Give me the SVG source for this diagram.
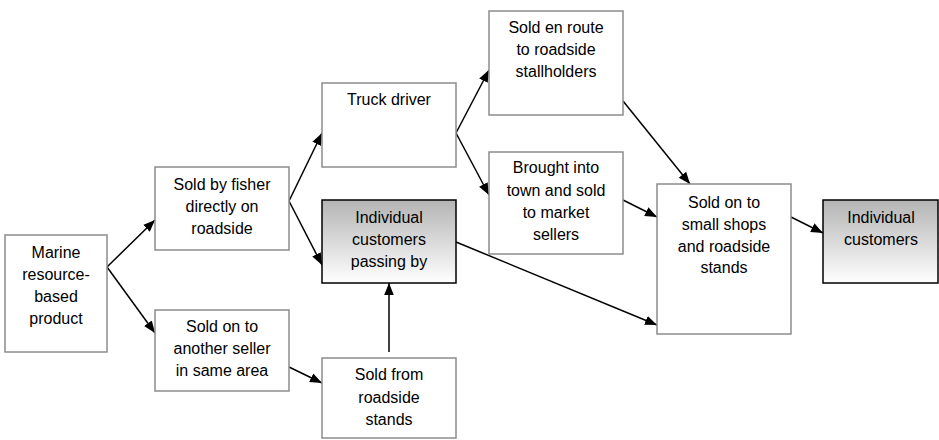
<svg xmlns="http://www.w3.org/2000/svg" width="939" height="440" viewBox="0 0 939 440">
<style>
.box{fill:#fff;stroke:#8c8c8c;stroke-width:1.5}
.sh{fill:url(#g);stroke:#000;stroke-width:1.5}
text{font-family:"Liberation Sans",Arial,sans-serif;font-size:16px;fill:#000;text-anchor:middle}
.c line{stroke:#000;stroke-width:1.5;marker-end:url(#a)}
</style>
<defs>
<linearGradient id="g" x1="0" y1="0" x2="0" y2="1">
<stop offset="0" stop-color="#b4b4b4"/>
<stop offset="1" stop-color="#ffffff"/>
</linearGradient>
<marker id="a" viewBox="0 0 10 10" refX="10" refY="5" markerWidth="8" markerHeight="8" orient="auto" markerUnits="strokeWidth">
<path d="M0,1 L10,5 L0,9 z" fill="#000"/>
</marker>
</defs>
<g class="c" id="connectors">
<line x1="107" y1="267" x2="155" y2="220"/>
<line x1="107" y1="267" x2="155" y2="333"/>
<line x1="289" y1="201" x2="322" y2="133"/>
<line x1="289" y1="201" x2="322" y2="265"/>
<line x1="289" y1="367" x2="322" y2="383"/>
<line x1="456" y1="133" x2="489" y2="70"/>
<line x1="456" y1="133" x2="489" y2="195"/>
<line x1="623" y1="101" x2="690" y2="184"/>
<line x1="623" y1="200" x2="657" y2="217"/>
<line x1="456" y1="242" x2="657" y2="325"/>
<line x1="389" y1="352" x2="389" y2="283"/>
<line x1="791" y1="217" x2="823" y2="233"/>
</g>
<g id="marine"><rect class="box" x="5" y="235" width="102" height="117"/>
<text x="56" y="258">Marine</text><text x="56" y="280">resource-</text><text x="56" y="302">based</text><text x="56" y="324">product</text></g>
<g id="fisher"><rect class="box" x="155" y="167" width="134" height="83"/>
<text x="222" y="190">Sold by fisher</text><text x="222" y="212">directly  on</text><text x="222" y="234">roadside</text></g>
<g id="another"><rect class="box" x="155" y="310" width="134" height="81"/>
<text x="222" y="332">Sold on to</text><text x="222" y="354">another seller</text><text x="222" y="376">in same area</text></g>
<g id="truck"><rect class="box" x="322" y="83" width="134" height="84"/>
<text x="389" y="105">Truck driver</text></g>
<g id="passing"><rect class="sh" x="322" y="200" width="134" height="83"/>
<text x="389" y="223">Individual</text><text x="389" y="245">customers</text><text x="389" y="267">passing by</text></g>
<g id="stands"><rect class="box" x="322" y="358" width="134" height="80"/>
<text x="389" y="380">Sold from</text><text x="389" y="403">roadside</text><text x="389" y="425">stands</text></g>
<g id="enroute"><rect class="box" x="489" y="11" width="134" height="104"/>
<text x="556" y="33">Sold en route</text><text x="556" y="55">to roadside</text><text x="556" y="77">stallholders</text></g>
<g id="town"><rect class="box" x="489" y="152" width="134" height="102"/>
<text x="556" y="173">Brought into</text><text x="556" y="196">town and sold</text><text x="556" y="218">to market</text><text x="556" y="240">sellers</text></g>
<g id="shops"><rect class="box" x="657" y="184" width="134" height="150"/>
<text x="724" y="208">Sold on to</text><text x="724" y="230">small shops</text><text x="724" y="252">and roadside</text><text x="724" y="273">stands</text></g>
<g id="customers"><rect class="sh" x="823" y="200" width="115" height="83"/>
<text x="881" y="223">Individual</text><text x="881" y="245">customers</text></g>
</svg>
